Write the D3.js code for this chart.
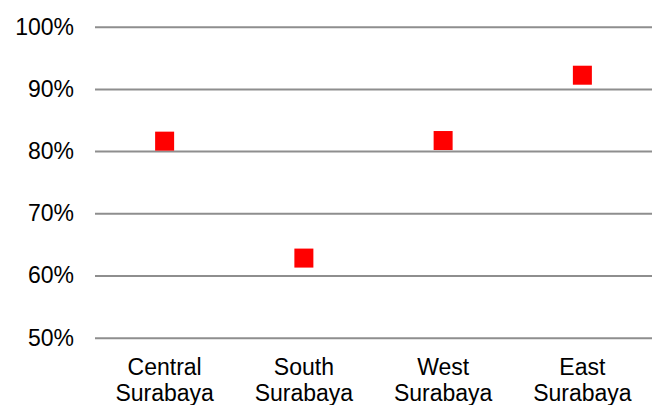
<!DOCTYPE html>
<html>
<head>
<meta charset="utf-8">
<script src="https://cdn.jsdelivr.net/npm/d3@7"></script>
<style>
  html, body { margin: 0; padding: 0; background: #ffffff; }
  svg { display: block; }
  text { font-family: "Liberation Sans", Arial, sans-serif; fill: #000; }
</style>
</head>
<body>
<svg id="chart" width="662" height="405"></svg>
<script>
// Share per region of Surabaya
const regions = ["Central Surabaya", "South Surabaya", "West Surabaya", "East Surabaya"];
const shares = [0.816, 0.628, 0.817, 0.922];
const yTicks = [0.5, 0.6, 0.7, 0.8, 0.9, 1.0];

const W = 662, H = 405;
const plot = { left: 95, right: 652, top: 26.7, bottom: 337.7 };

const svg = d3.select("#chart");

const x = d3.scaleBand().domain(regions).range([plot.left, plot.right]).padding(0);
const y = d3.scaleLinear().domain([0.5, 1.0]).range([plot.bottom, plot.top]);

// Horizontal gridlines with percent labels
const yAxis = d3.axisLeft(y)
  .tickValues(yTicks)
  .tickFormat(d3.format(".0%"))
  .tickSize(-(plot.right - plot.left))
  .tickPadding(21);

const gy = svg.append("g")
  .attr("transform", `translate(${plot.left},0)`)
  .call(yAxis);
gy.select(".domain").remove();
gy.selectAll(".tick line").attr("stroke", "#8e8e8e").attr("stroke-width", 2);
gy.selectAll(".tick text")
  .attr("font-size", 23)
  .attr("fill", "#000");

// Category labels, two lines each
const gx = svg.append("g");
regions.forEach(r => {
  const words = r.split(" ");
  const t = gx.append("text")
    .attr("x", x(r) + x.bandwidth() / 2)
    .attr("y", 375)
    .attr("text-anchor", "middle")
    .attr("font-size", 23);
  words.forEach((w, i) => {
    t.append("tspan")
      .attr("x", x(r) + x.bandwidth() / 2)
      .attr("dy", i === 0 ? 0 : 26)
      .text(w);
  });
});

// Square markers
const size = 19;
svg.append("g").selectAll("rect")
  .data(regions.map((r, i) => ({ r, v: shares[i] })))
  .join("rect")
  .attr("x", d => x(d.r) + x.bandwidth() / 2 - size / 2)
  .attr("y", d => y(d.v) - size / 2)
  .attr("width", size)
  .attr("height", size)
  .attr("fill", "#ff0000");
</script>
</body>
</html>
